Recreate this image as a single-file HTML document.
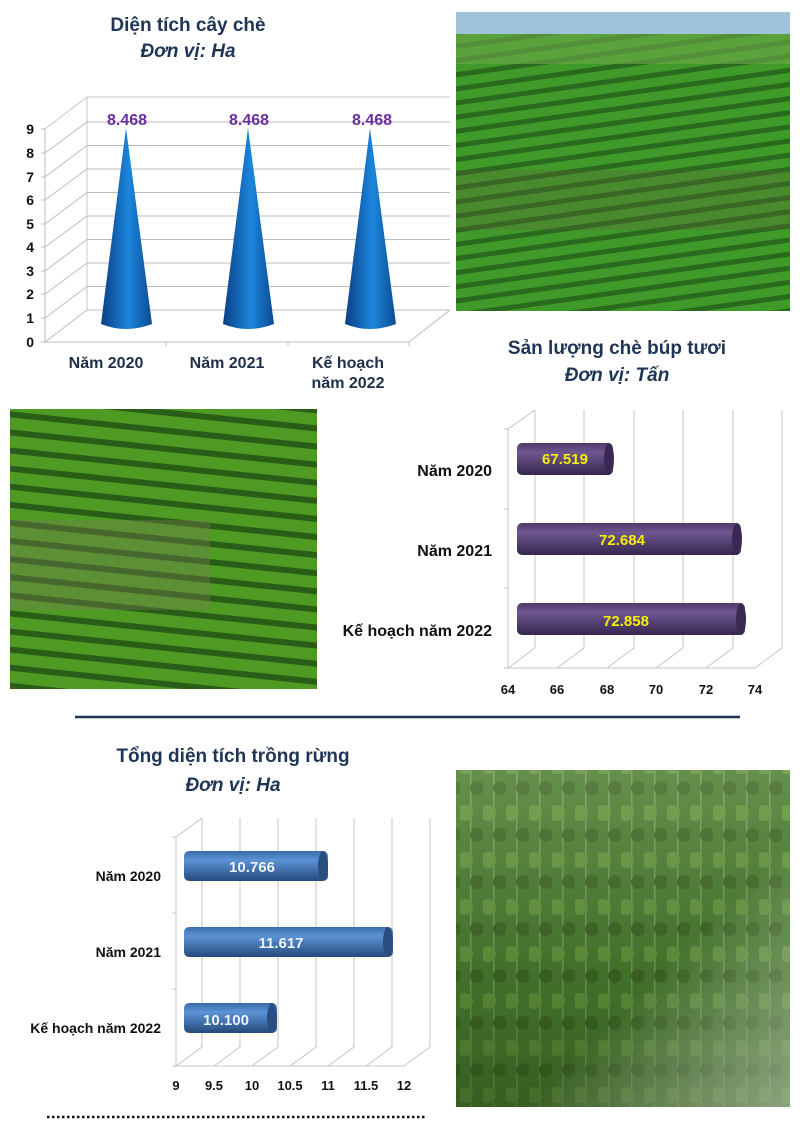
<!DOCTYPE html>
<html><head><meta charset="utf-8"><style>
body{margin:0;background:#fff}
svg{display:block}
text{font-family:"Liberation Sans",sans-serif;font-weight:bold}
</style></head><body>
<svg width="800" height="1131" viewBox="0 0 800 1131" xmlns="http://www.w3.org/2000/svg">
<defs>
<linearGradient id="cone" x1="0" x2="1" y1="0" y2="0">
<stop offset="0" stop-color="#0b3f86"/><stop offset="0.55" stop-color="#1b86dc"/><stop offset="1" stop-color="#0c4a92"/></linearGradient>
<linearGradient id="pur" x1="0" x2="0" y1="0" y2="1">
<stop offset="0" stop-color="#4d3a6a"/><stop offset="0.3" stop-color="#6e5690"/><stop offset="1" stop-color="#35264c"/></linearGradient>
<linearGradient id="blu" x1="0" x2="0" y1="0" y2="1">
<stop offset="0" stop-color="#3a6aa8"/><stop offset="0.3" stop-color="#5b93d6"/><stop offset="1" stop-color="#254a7c"/></linearGradient>
<pattern id="rows1" width="30" height="14" patternUnits="userSpaceOnUse" patternTransform="rotate(-8)">
<rect width="30" height="14" fill="#3f9a2a"/><rect y="9" width="30" height="5" fill="#2a6a1e"/></pattern>
<pattern id="rows2" width="40" height="18" patternUnits="userSpaceOnUse" patternTransform="rotate(6)">
<rect width="40" height="18" fill="#4e9a22"/><rect y="12" width="40" height="6" fill="#2a5e18"/></pattern>
<pattern id="trees" width="23" height="47" patternUnits="userSpaceOnUse">
<rect width="23" height="47" fill="#4a7a30"/><rect x="10" width="1.5" height="47" fill="#a8b898" opacity="0.6"/><circle cx="5" cy="14" r="8" fill="#6a9a42"/><circle cx="17" cy="36" r="7" fill="#3a6022"/></pattern>
<linearGradient id="mist" x1="0" x2="1" y1="0" y2="1"><stop offset="0" stop-color="#fff" stop-opacity="0"/><stop offset="0.6" stop-color="#fff" stop-opacity="0"/><stop offset="1" stop-color="#dde6d6" stop-opacity="0.5"/></linearGradient>
<linearGradient id="fshade" x1="0" x2="0" y1="0" y2="1"><stop offset="0" stop-color="#9aba80" stop-opacity="0.35"/><stop offset="0.6" stop-color="#2f5a1c" stop-opacity="0.3"/><stop offset="1" stop-color="#2a4a16" stop-opacity="0.6"/></linearGradient>
</defs>

<rect x="456" y="12" width="334" height="299" fill="url(#rows1)"/>
<rect x="456" y="12" width="334" height="22" fill="#9fc3d8"/>
<rect x="456" y="34" width="334" height="30" fill="#6ea84a" opacity="0.6"/>
<rect x="456" y="170" width="334" height="60" fill="#6b5a40" opacity="0.25"/>
<rect x="10" y="409" width="307" height="280" fill="url(#rows2)"/>
<rect x="10" y="520" width="200" height="90" fill="#7a7a5a" opacity="0.35"/>
<rect x="456" y="770" width="334" height="337" fill="url(#trees)"/>
<rect x="456" y="770" width="334" height="337" fill="url(#fshade)"/>
<rect x="456" y="770" width="334" height="337" fill="url(#mist)"/>

<text x="188" y="31" text-anchor="middle" font-size="19" fill="#1f3556">Diện tích cây chè</text>
<text x="188" y="57" text-anchor="middle" font-size="19" fill="#1f3556" font-style="italic">Đơn vị: Ha</text>
<g stroke="#c8c8c8" stroke-width="1" fill="none">
<line x1="87" y1="97" x2="450" y2="97"/>
<line x1="45" y1="129" x2="87" y2="97"/>
<line x1="87" y1="97" x2="87" y2="310"/>
</g>
<g stroke="#bcbcbc" stroke-width="1">
<line x1="87" y1="122" x2="450" y2="122"/><line x1="45" y1="153" x2="87" y2="122"/>
<line x1="87" y1="145.5" x2="450" y2="145.5"/><line x1="45" y1="177" x2="87" y2="145.5"/>
<line x1="87" y1="169" x2="450" y2="169"/><line x1="45" y1="200" x2="87" y2="169"/>
<line x1="87" y1="192.5" x2="450" y2="192.5"/><line x1="45" y1="224" x2="87" y2="192.5"/>
<line x1="87" y1="216" x2="450" y2="216"/><line x1="45" y1="247" x2="87" y2="216"/>
<line x1="87" y1="239.5" x2="450" y2="239.5"/><line x1="45" y1="271" x2="87" y2="239.5"/>
<line x1="87" y1="263" x2="450" y2="263"/><line x1="45" y1="294" x2="87" y2="263"/>
<line x1="87" y1="286.5" x2="450" y2="286.5"/><line x1="45" y1="318" x2="87" y2="286.5"/>
<line x1="87" y1="310" x2="450" y2="310"/><line x1="45" y1="342" x2="87" y2="310"/>
<line x1="409" y1="342" x2="450" y2="310"/>
<line x1="45" y1="129" x2="45" y2="342"/><line x1="45" y1="342" x2="409" y2="342"/>
<line x1="166" y1="342" x2="166" y2="346"/><line x1="288" y1="342" x2="288" y2="346"/><line x1="409" y1="342" x2="409" y2="346"/>
<line x1="41" y1="129" x2="45" y2="129"/><line x1="41" y1="153" x2="45" y2="153"/><line x1="41" y1="177" x2="45" y2="177"/><line x1="41" y1="200" x2="45" y2="200"/><line x1="41" y1="224" x2="45" y2="224"/><line x1="41" y1="247" x2="45" y2="247"/><line x1="41" y1="271" x2="45" y2="271"/><line x1="41" y1="294" x2="45" y2="294"/><line x1="41" y1="318" x2="45" y2="318"/><line x1="41" y1="342" x2="45" y2="342"/>
</g>
<g font-size="14" fill="#111" text-anchor="end">
<text x="34" y="134">9</text><text x="34" y="158">8</text><text x="34" y="182">7</text><text x="34" y="205">6</text><text x="34" y="229">5</text><text x="34" y="252">4</text><text x="34" y="276">3</text><text x="34" y="299">2</text><text x="34" y="323">1</text><text x="34" y="347">0</text>
</g>
<g fill="url(#cone)">
<path d="M101 324 L126 128 L152 324 Q126 334 101 324Z"/>
<path d="M223 324 L248 128 L274 324 Q248 334 223 324Z"/>
<path d="M345 324 L370 128 L396 324 Q370 334 345 324Z"/>
</g>
<g font-size="16" fill="#6b2fa0" text-anchor="middle">
<text x="127" y="125">8.468</text><text x="249" y="125">8.468</text><text x="372" y="125">8.468</text>
</g>
<g font-size="16" fill="#1f2f4a" text-anchor="middle">
<text x="106" y="368">Năm 2020</text><text x="227" y="368">Năm 2021</text><text x="348" y="368">Kế hoạch</text><text x="348" y="388">năm 2022</text>
</g>

<text x="617" y="354" text-anchor="middle" font-size="19" fill="#1f3556">Sản lượng chè búp tươi</text>
<text x="617" y="381" text-anchor="middle" font-size="19" fill="#1f3556" font-style="italic">Đơn vị: Tấn</text>
<g stroke="#c4c4c4" stroke-width="1">
<line x1="508" y1="429" x2="535" y2="410"/>
<line x1="535" y1="410" x2="535" y2="648"/><line x1="584" y1="410" x2="584" y2="648"/><line x1="634" y1="410" x2="634" y2="648"/><line x1="683" y1="410" x2="683" y2="648"/><line x1="733" y1="410" x2="733" y2="648"/><line x1="782" y1="410" x2="782" y2="648"/>
<line x1="508" y1="668" x2="535" y2="648"/><line x1="557" y1="668" x2="584" y2="648"/><line x1="607" y1="668" x2="634" y2="648"/><line x1="656" y1="668" x2="683" y2="648"/><line x1="706" y1="668" x2="733" y2="648"/><line x1="755" y1="668" x2="782" y2="648"/>
<line x1="508" y1="429" x2="508" y2="668"/><line x1="508" y1="668" x2="755" y2="668"/>
<line x1="504" y1="429" x2="508" y2="429"/><line x1="504" y1="509" x2="508" y2="509"/><line x1="504" y1="588" x2="508" y2="588"/><line x1="504" y1="668" x2="508" y2="668"/>
</g>
<g fill="url(#pur)">
<rect x="517" y="443" width="96" height="32" rx="5"/>
<rect x="517" y="523" width="224" height="32" rx="5"/>
<rect x="517" y="603" width="228" height="32" rx="5"/>
</g>
<g fill="#3a2a52">
<ellipse cx="609" cy="459" rx="5" ry="16"/><ellipse cx="737" cy="539" rx="5" ry="16"/><ellipse cx="741" cy="619" rx="5" ry="16"/>
</g>
<g font-size="15" fill="#f4f000" text-anchor="middle">
<text x="565" y="464">67.519</text><text x="622" y="545">72.684</text><text x="626" y="626">72.858</text>
</g>
<g font-size="16" fill="#111" text-anchor="end">
<text x="492" y="476">Năm 2020</text><text x="492" y="556">Năm 2021</text><text x="492" y="636">Kế hoạch năm 2022</text>
</g>
<g font-size="13" fill="#111" text-anchor="middle">
<text x="508" y="694">64</text><text x="557" y="694">66</text><text x="607" y="694">68</text><text x="656" y="694">70</text><text x="706" y="694">72</text><text x="755" y="694">74</text>
</g>

<line x1="75" y1="717" x2="740" y2="717" stroke="#1f3556" stroke-width="2.5"/>

<text x="233" y="762" text-anchor="middle" font-size="19" fill="#1f3556">Tổng diện tích trồng rừng</text>
<text x="233" y="791" text-anchor="middle" font-size="19" fill="#1f3556" font-style="italic">Đơn vị: Ha</text>
<g stroke="#c4c4c4" stroke-width="1">
<line x1="176" y1="837" x2="202" y2="818"/>
<line x1="202" y1="818" x2="202" y2="1047"/><line x1="240" y1="818" x2="240" y2="1047"/><line x1="278" y1="818" x2="278" y2="1047"/><line x1="316" y1="818" x2="316" y2="1047"/><line x1="354" y1="818" x2="354" y2="1047"/><line x1="392" y1="818" x2="392" y2="1047"/><line x1="430" y1="818" x2="430" y2="1047"/>
<line x1="176" y1="1066" x2="202" y2="1047"/><line x1="214" y1="1066" x2="240" y2="1047"/><line x1="252" y1="1066" x2="278" y2="1047"/><line x1="290" y1="1066" x2="316" y2="1047"/><line x1="328" y1="1066" x2="354" y2="1047"/><line x1="366" y1="1066" x2="392" y2="1047"/><line x1="404" y1="1066" x2="430" y2="1047"/>
<line x1="176" y1="837" x2="176" y2="1066"/><line x1="176" y1="1066" x2="404" y2="1066"/>
<line x1="172" y1="837" x2="176" y2="837"/><line x1="172" y1="913" x2="176" y2="913"/><line x1="172" y1="989" x2="176" y2="989"/><line x1="172" y1="1066" x2="176" y2="1066"/>
</g>
<g fill="url(#blu)">
<rect x="184" y="851" width="144" height="30" rx="5"/>
<rect x="184" y="927" width="209" height="30" rx="5"/>
<rect x="184" y="1003" width="93" height="30" rx="5"/>
</g>
<g fill="#2a4e80">
<ellipse cx="323" cy="866" rx="5" ry="15"/><ellipse cx="388" cy="942" rx="5" ry="15"/><ellipse cx="272" cy="1018" rx="5" ry="15"/>
</g>
<g font-size="15" fill="#eef4fa" text-anchor="middle">
<text x="252" y="872">10.766</text><text x="281" y="948">11.617</text><text x="226" y="1025">10.100</text>
</g>
<g font-size="14" fill="#111" text-anchor="end">
<text x="161" y="881">Năm 2020</text><text x="161" y="957">Năm 2021</text><text x="161" y="1033">Kế hoạch năm 2022</text>
</g>
<g font-size="13" fill="#111" text-anchor="middle">
<text x="176" y="1090">9</text><text x="214" y="1090">9.5</text><text x="252" y="1090">10</text><text x="290" y="1090">10.5</text><text x="328" y="1090">11</text><text x="366" y="1090">11.5</text><text x="404" y="1090">12</text>
</g>
<line x1="47" y1="1117" x2="427" y2="1117" stroke="#111" stroke-width="2.5" stroke-dasharray="2.5 2.5"/>
</svg>
</body></html>
